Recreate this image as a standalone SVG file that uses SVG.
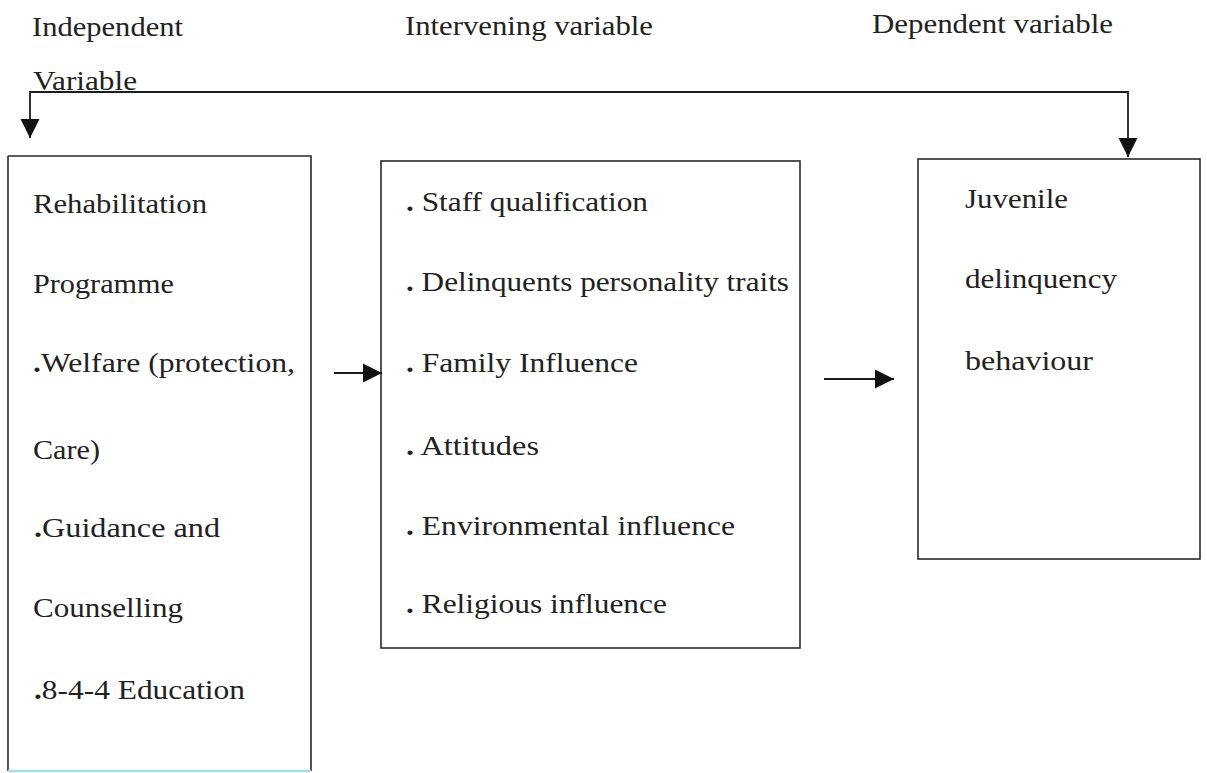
<svg xmlns="http://www.w3.org/2000/svg" width="1207" height="773" viewBox="0 0 1207 773">
  <style>
    text { font-family: "Liberation Serif", "Times New Roman", serif; font-size: 28px; fill: #222222; }
    .b { font-weight: bold; }
    .box { fill: none; stroke: #2a2a2a; stroke-width: 1.6; }
    .conn { fill: none; stroke: #1c1c1c; stroke-width: 1.8; }
  </style>
  <defs>
    <marker id="ah" markerUnits="userSpaceOnUse" markerWidth="20" markerHeight="20" viewBox="0 0 20 19" refX="19" refY="9.5" orient="auto-start-reverse">
      <path d="M0,0 L19,9.5 L0,19 Z" fill="#111"/>
    </marker>
  </defs>
  <rect width="1207" height="773" fill="#ffffff"/>

  <g id="headings">
    <text x="32" y="36" textLength="151" lengthAdjust="spacingAndGlyphs">Independent</text>
    <text x="33" y="90" textLength="104" lengthAdjust="spacingAndGlyphs">Variable</text>
    <text x="405" y="35" textLength="248" lengthAdjust="spacingAndGlyphs">Intervening variable</text>
    <text x="872" y="33" textLength="241" lengthAdjust="spacingAndGlyphs">Dependent variable</text>
  </g>

  <g id="independent">
    <path class="box" d="M8,156 H311 V771 M8,156 V771"/>
    <line x1="8" y1="771" x2="311" y2="771" stroke="#a9dbe6" stroke-width="2.5"/>
    <text x="33" y="213" textLength="174" lengthAdjust="spacingAndGlyphs">Rehabilitation</text>
    <text x="33" y="293" textLength="141" lengthAdjust="spacingAndGlyphs">Programme</text>
    <text x="33" y="372" textLength="262" lengthAdjust="spacingAndGlyphs"><tspan class="b">.</tspan>Welfare (protection,</text>
    <text x="33" y="459" textLength="67" lengthAdjust="spacingAndGlyphs">Care)</text>
    <text x="34" y="537" textLength="186" lengthAdjust="spacingAndGlyphs"><tspan class="b">.</tspan>Guidance  and</text>
    <text x="33" y="617" textLength="150" lengthAdjust="spacingAndGlyphs">Counselling</text>
    <text x="34" y="699" textLength="211" lengthAdjust="spacingAndGlyphs"><tspan class="b">.</tspan>8-4-4 Education</text>
  </g>

  <g id="intervening">
    <rect class="box" x="381" y="161" width="419" height="487"/>
    <text x="406" y="211" textLength="242" lengthAdjust="spacingAndGlyphs"><tspan class="b">.</tspan> Staff qualification</text>
    <text x="406" y="291" textLength="383" lengthAdjust="spacingAndGlyphs"><tspan class="b">.</tspan> Delinquents personality traits</text>
    <text x="406" y="372" textLength="232" lengthAdjust="spacingAndGlyphs"><tspan class="b">.</tspan>  Family Influence</text>
    <text x="406" y="455" textLength="133" lengthAdjust="spacingAndGlyphs"><tspan class="b">.</tspan> Attitudes</text>
    <text x="406" y="535" textLength="329" lengthAdjust="spacingAndGlyphs"><tspan class="b">.</tspan>  Environmental influence</text>
    <text x="406" y="613" textLength="261" lengthAdjust="spacingAndGlyphs"><tspan class="b">.</tspan> Religious influence</text>
  </g>

  <g id="dependent">
    <rect class="box" x="918" y="159" width="282" height="400"/>
    <text x="965" y="208" textLength="103" lengthAdjust="spacingAndGlyphs">Juvenile</text>
    <text x="965" y="288" textLength="152" lengthAdjust="spacingAndGlyphs">delinquency</text>
    <text x="965" y="370" textLength="128" lengthAdjust="spacingAndGlyphs">behaviour</text>
  </g>

  <g id="connectors">
    <path class="conn" d="M30,138 V92 H1128 V157" marker-start="url(#ah)" marker-end="url(#ah)"/>
    <line class="conn" x1="334" y1="373" x2="382" y2="373" marker-end="url(#ah)"/>
    <line class="conn" x1="824" y1="379" x2="894" y2="379" marker-end="url(#ah)"/>
  </g>
</svg>
